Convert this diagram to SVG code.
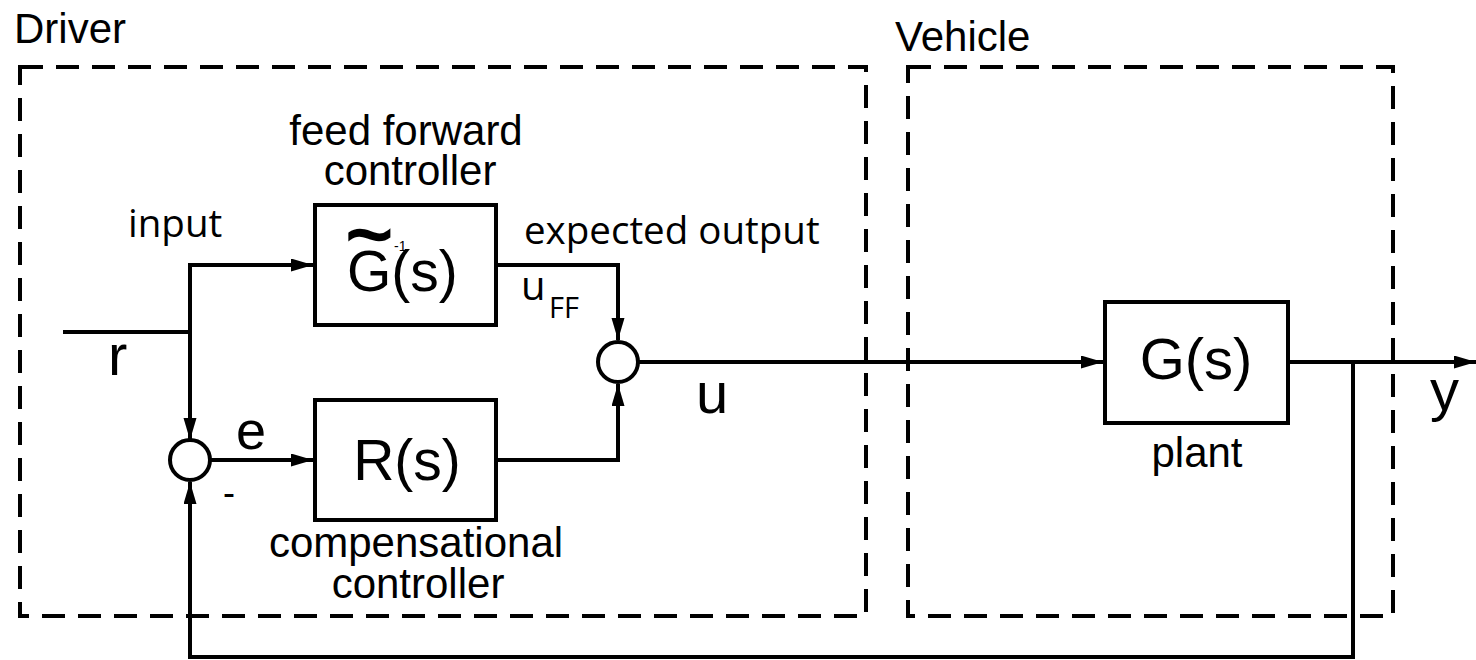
<svg xmlns="http://www.w3.org/2000/svg" width="1476" height="660" viewBox="0 0 1476 660">
<defs>
<style>
.bg{fill:#fff}
.zone{fill:none;stroke:#000;stroke-width:4;stroke-dasharray:23 13}
.blk{fill:#fff;stroke:#000;stroke-width:4}
.sum{fill:#fff;stroke:#000;stroke-width:4}
.wire{fill:none;stroke:#000;stroke-width:4}
.arr{fill:none;stroke:#000;stroke-width:4;marker-end:url(#ah)}
.a{font-family:"Liberation Sans",Arial,sans-serif;fill:#000}
.m{font-family:"Open Sans","Liberation Sans",sans-serif;fill:#000}
</style>
<marker id="ah" markerUnits="userSpaceOnUse" markerWidth="24" markerHeight="14" refX="22" refY="6.5" orient="auto">
<path d="M0,0 L22,6.5 L0,13 z" fill="#000"/>
</marker>
</defs>
<rect class="bg" x="0" y="0" width="1476" height="660"/>

<g id="driver-zone">
<rect class="zone" x="20" y="67" width="846" height="549"/>
<text class="a" x="14" y="43" font-size="42">Driver</text>
</g>
<g id="vehicle-zone">
<rect class="zone" x="908" y="67" width="485" height="549"/>
<text class="a" x="895" y="51" font-size="42">Vehicle</text>
</g>

<g id="connectors">
<path class="wire" d="M63,332 H190"/>
<path class="arr" d="M190,332 V440"/>
<path class="arr" d="M190,332 V265 H313"/>
<path class="arr" d="M210,460 H313"/>
<path class="arr" d="M498,265 H618 V340"/>
<path class="arr" d="M498,460 H618 V384"/>
<path class="arr" d="M638,362 H1103"/>
<path class="arr" d="M1290,362 H1476"/>
<path class="arr" d="M1353,362 V657 H190 V482"/>
</g>

<g id="ff-controller">
<rect class="blk" x="315" y="205" width="181" height="120"/>
<text class="a" x="346" y="262" font-size="80" stroke="#000" stroke-width="2.5">~</text>
<text class="a" x="347" y="291" font-size="57">G(s)</text>
<text class="a" x="394" y="251" font-size="14">-1</text>
<text class="a" x="406" y="145" font-size="42" text-anchor="middle">feed forward</text>
<text class="a" x="410" y="185" font-size="42" text-anchor="middle">controller</text>
</g>

<g id="comp-controller">
<rect class="blk" x="315" y="400" width="181" height="120"/>
<text class="a" x="407" y="480" font-size="57" text-anchor="middle">R(s)</text>
<text class="a" x="416" y="557" font-size="42" text-anchor="middle">compensational</text>
<text class="a" x="418" y="598" font-size="42" text-anchor="middle">controller</text>
</g>

<g id="sum-error">
<circle class="sum" cx="190" cy="460" r="20"/>
<text class="a" x="223" y="505" font-size="36">-</text>
</g>

<g id="sum-output">
<circle class="sum" cx="618" cy="362" r="20"/>
</g>

<g id="plant">
<rect class="blk" x="1105" y="302" width="183" height="121"/>
<text class="a" x="1196" y="379" font-size="58" text-anchor="middle">G(s)</text>
<text class="a" x="1197" y="467" font-size="42" text-anchor="middle">plant</text>
</g>

<g id="labels">
<text class="m" x="128" y="237" font-size="38.5">input</text>
<text class="m" x="524" y="244" font-size="38.5">expected output</text>
<text class="m" x="521" y="300" font-size="40">u</text>
<text class="m" x="549" y="318" font-size="29">FF</text>
<text class="a" x="108" y="375" font-size="58">r</text>
<text class="a" x="236" y="449" font-size="54">e</text>
<text class="a" x="696" y="413" font-size="58">u</text>
<text class="a" x="1430" y="410" font-size="58">y</text>
</g>
</svg>
